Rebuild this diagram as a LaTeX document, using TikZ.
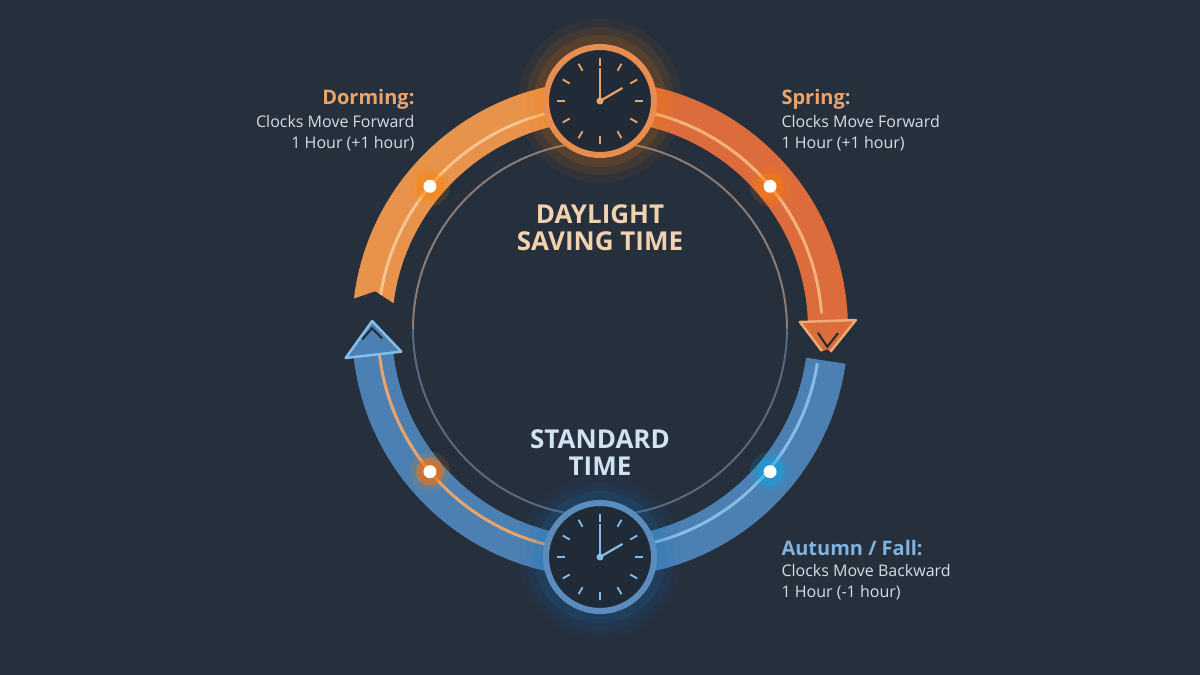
\documentclass[tikz,border=0pt]{standalone}
\usepackage{fontspec}
\setmainfont{Open Sans}
\usetikzlibrary{calc}
\begin{document}
\begin{tikzpicture}[x=1pt,y=1pt,
  band/.style={line width=40pt},
  dot/.style={circle,fill=white,inner sep=0pt,minimum size=13pt},
  head/.style={font=\bfseries\fontsize{20}{22}\selectfont},
  body/.style={font=\fontsize{16}{21}\selectfont,text=txt},
  title/.style={font=\bfseries\fontsize{26}{30}\selectfont,align=center},
  clock/.style={circle,minimum size=108pt,fill=face,line width=6pt,inner sep=0pt}]
\definecolor{bg}{HTML}{262F3C}
\definecolor{face}{HTML}{212B38}
\definecolor{txt}{HTML}{D8DDE3}
\definecolor{orL}{HTML}{E8934C}
\definecolor{orR}{HTML}{DC6C3C}
\definecolor{orHi}{HTML}{F6C48E}
\definecolor{orT}{HTML}{EBA46C}
\definecolor{blB}{HTML}{4C80B2}
\definecolor{blHi}{HTML}{85BDEA}
\definecolor{blT}{HTML}{7FB3E0}
\definecolor{dstT}{HTML}{F2D2AE}
\definecolor{stT}{HTML}{CFE3F2}
\fill[bg] (0,0) rectangle (1200,675);
\useasboundingbox (0,0) rectangle (1200,675);
\coordinate (C) at (600,346);
\begin{scope}[shift={(C)}]
  % inner circle
  \draw[line width=2pt,color={rgb,255:red,138;green,124;blue,116}] (0:187) arc[start angle=0,end angle=180,radius=187];
  \draw[line width=2pt,color={rgb,255:red,86;green,106;blue,130}] (180:187) arc[start angle=180,end angle=360,radius=187];
  % orange left band
  \draw[band,orL] (90:228) arc[start angle=90,end angle=173,radius=228];
  \draw[line width=3pt,orHi] (90:222) arc[start angle=90,end angle=172,radius=222];
  \fill[bg] (173.2:250) -- (173.2:206) -- (170.5:228) -- cycle;
  % orange right band + head
  \draw[band,orR] (90:228) arc[start angle=90,end angle=2,radius=228];
  \draw[line width=3pt,orHi!80!orR] (90:222) arc[start angle=90,end angle=4,radius=222];
  \filldraw[fill=orR,draw=orHi!70!orR,line width=2.5pt,line join=round] (2:200) -- (2:256) -- (-7:228) -- cycle;
  \draw[line width=2pt,face] (-1:218) -- (-4.5:228) -- (-1:238);
  % blue right band
  \draw[band,blB] (-8:228) arc[start angle=-8,end angle=-90,radius=228];
  \draw[line width=3pt,blHi] (-9:220) arc[start angle=-9,end angle=-90,radius=220];
  \fill[bg] (-7.8:250) -- (-7.8:206) -- (-5.2:228) -- cycle;
  % blue left band + head
  \draw[band,blB] (270:228) arc[start angle=270,end angle=186,radius=228];
  \draw[line width=3pt,orT] (270:222) arc[start angle=270,end angle=184,radius=222];
  \filldraw[fill=blB,draw=blHi,line width=2.5pt,line join=round] (186.5:200) -- (186.5:256) -- (178:228) -- cycle;
  \draw[line width=2pt,face] (182.5:218) -- (179.8:228) -- (182.5:238);
  % glows and dots
  \foreach \a/\c in {140/orange,40/orange,220/orange,320/cyan}{
    \fill[\c,opacity=0.15] (\a:222) circle (20);
    \fill[\c,opacity=0.35] (\a:222) circle (14);
  }
  \fill[orange!80!red,opacity=0.5] (220:222) circle (12);
  \node[dot] (d1) at (140:222) {};
  \node[dot] (d2) at (40:222) {};
  \node[dot] (d3) at (220:222) {};
  \node[dot] (d4) at (320:222) {};
  % clocks
  \foreach \r/\o in {82/0.05,74/0.08,66/0.12}{
    \fill[orange,opacity=\o] (90:228) circle (\r);
    \fill[cyan!60!blue,opacity=\o] (270:228) circle (\r);
  }
  \node[clock,draw={rgb,255:red,232;green,140;blue,80}] (ck1) at (90:228) {};
  \node[clock,draw={rgb,255:red,90;green,140;blue,190}] (ck2) at (270:228) {};
\end{scope}
\foreach \ck/\tc in {ck1/orT,ck2/blHi}{
  \foreach \t in {0,30,...,330}{
    \draw[\tc,line width=1.8pt] ($(\ck)+(\t:35)$) -- ($(\ck)+(\t:43)$);
  }
  \draw[\tc,line width=2.2pt] (\ck.center) -- ++(90:33);
  \draw[\tc,line width=2.2pt] (\ck.center) -- ++(30:26);
  \fill[\tc] (\ck.center) circle (3.5);
}
% texts
\node[title,text=dstT] (dst) at (600,447) {DAYLIGHT\\[-3pt]SAVING TIME};
\node[title,text=stT] (st) at (600,222) {STANDARD\\[-3pt]TIME};
\node[head,text=orT,anchor=east] (h1) at (418,576) {Dorming:};
\node[body,anchor=north east,align=right] (b1) at (418,563) {Clocks Move Forward\\1 Hour (+1 hour)};
\node[head,text=orT,anchor=west] (h2) at (778,576) {Spring:};
\node[body,anchor=north west,align=left] (b2) at (778,563) {Clocks Move Forward\\1 Hour (+1 hour)};
\node[head,text=blT,anchor=west] (h3) at (778,127) {Autumn / Fall:};
\node[body,anchor=north west,align=left] (b3) at (778,114) {Clocks Move Backward\\1 Hour (-1 hour)};
\end{tikzpicture}
\end{document}
